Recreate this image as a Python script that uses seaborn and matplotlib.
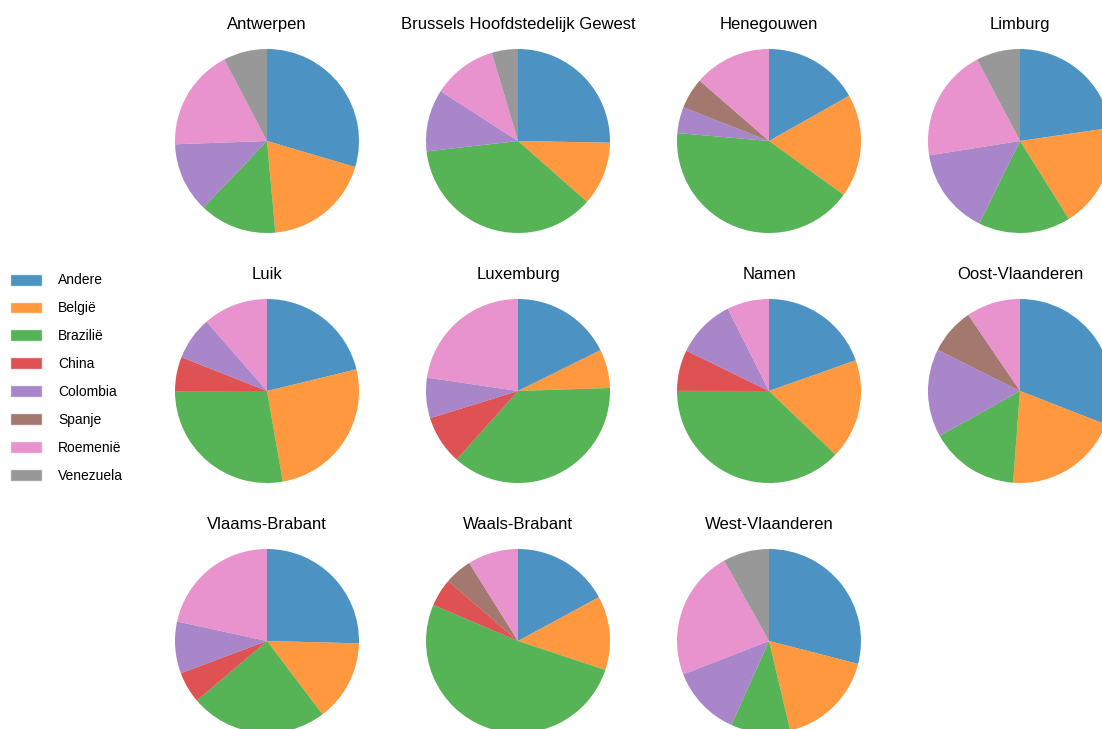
import matplotlib
matplotlib.use("Agg")
import matplotlib.pyplot as plt
from matplotlib.patches import Patch
import seaborn as sns

# Countries (legend order = wedge order, clockwise from the top)
countries = ["Andere", "België", "Brazilië", "China", "Colombia", "Spanje", "Roemenië", "Venezuela"]

# Provinces in panel order
provinces = ["Antwerpen", "Brussels Hoofdstedelijk Gewest", "Henegouwen", "Limburg",
             "Luik", "Luxemburg", "Namen", "Oost-Vlaanderen",
             "Vlaams-Brabant", "Waals-Brabant", "West-Vlaanderen"]

# Share (%) per country, same order as `countries`
antwerpen = [29.6, 19.0, 13.6, 0, 12.3, 0, 17.9, 7.7]
brussel = [25.3, 11.2, 36.7, 0, 10.9, 0, 11.3, 4.6]
henegouwen = [16.8, 18.1, 41.4, 0, 4.6, 5.4, 13.6, 0]
limburg = [22.7, 18.4, 16.2, 0, 15.2, 0, 19.8, 7.7]
luik = [21.2, 26.0, 27.7, 6.0, 7.6, 0, 11.4, 0]
luxemburg = [17.7, 6.8, 37.2, 8.6, 7.1, 0, 22.7, 0]
namen = [19.6, 17.6, 37.9, 7.2, 10.4, 0, 7.4, 0]
oost_vlaanderen = [30.9, 20.3, 15.7, 0, 15.5, 8.1, 9.5, 0]
vlaams_brabant = [25.4, 14.3, 24.1, 5.5, 9.1, 0, 21.6, 0]
waals_brabant = [17.1, 13.0, 51.3, 4.9, 0, 4.8, 8.9, 0]
west_vlaanderen = [29.0, 17.3, 10.4, 0, 12.4, 0, 22.8, 8.1]

shares = [antwerpen, brussel, henegouwen, limburg, luik, luxemburg, namen,
          oost_vlaanderen, vlaams_brabant, waals_brabant, west_vlaanderen]

sns.set_style("white")
plt.rcParams['font.family'] = ['Liberation Sans', 'DejaVu Sans']
plt.rcParams['text.color'] = 'black'

palette = sns.color_palette("tab10", len(countries))
color_map = dict(zip(countries, palette))

W, H = 1102, 729
fig = plt.figure(figsize=(W / 100, H / 100), dpi=100)

# pie grid geometry in pixels (the grid runs off the right/bottom edge)
x0, y0, dx, dy, r = 267, 141, 251, 250, 92

for k, (name, vals) in enumerate(zip(provinces, shares)):
    row, col = divmod(k, 4)
    cx = x0 + col * dx
    cy = y0 + row * dy
    ax = fig.add_axes([(cx - r) / W, 1 - (cy + r) / H, 2 * r / W, 2 * r / H])
    keep = [(c, v) for c, v in zip(countries, vals) if v > 0]
    ax.pie([v for _, v in keep], colors=[color_map[c] for c, _ in keep],
           startangle=90, counterclock=False,
           wedgeprops=dict(alpha=0.8, linewidth=0))
    ax.set_xlim(-1, 1)
    ax.set_ylim(-1, 1)
    ax.set_aspect('equal')
    ax.set_title(name, fontsize=12, pad=14.5, color='black')

handles = [Patch(facecolor=color_map[c], alpha=0.8, label=c) for c in countries]
fig.legend(handles=handles, loc='center left', bbox_to_anchor=(10 / W, 1 - 378 / H),
           frameon=False, fontsize=10, borderaxespad=0, borderpad=0,
           handlelength=2.3, handleheight=0.95, handletextpad=1.15, labelspacing=1.0,
           labelcolor='black')

plt.savefig('out.png', dpi=100)
